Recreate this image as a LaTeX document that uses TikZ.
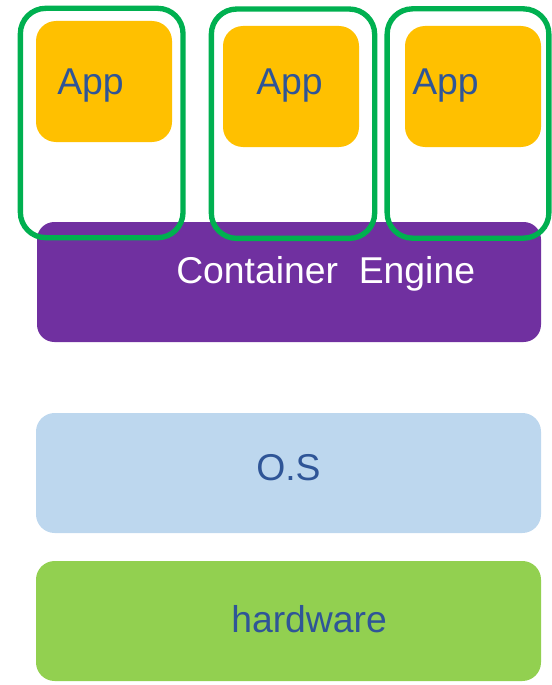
\documentclass[tikz,border=0pt]{standalone}
\usepackage{fontspec}
\setmainfont{Liberation Sans}
\definecolor{appyellow}{HTML}{FFC000}
\definecolor{enginepurple}{HTML}{7030A0}
\definecolor{boxgreen}{HTML}{00B050}
\definecolor{oslightblue}{HTML}{BDD7EE}
\definecolor{hwgreen}{HTML}{92D050}
\definecolor{labelblue}{HTML}{2F5597}
\begin{document}
\begin{tikzpicture}[x=0.75pt, y=-0.75pt]
  \tikzstyle{layer}=[rectangle, rounded corners=14pt, inner sep=0pt, minimum width=378.75pt, minimum height=90pt]
  \tikzstyle{appbox}=[rectangle, rounded corners=15pt, fill=appyellow, inner sep=0pt, minimum width=102pt, minimum height=90.75pt]
  \tikzstyle{container}=[rectangle, rounded corners=19pt, draw=boxgreen, line width=4pt, inner sep=0pt, minimum height=172pt]
  \tikzstyle{txt}=[anchor=base west, inner sep=0pt, font=\fontsize{28}{34}\selectfont, text=labelblue]
  \useasboundingbox (0,0) rectangle (552,685);
  \node[layer, fill=hwgreen] (hw) at (288.5,621) {};
  \node[layer, fill=oslightblue] (os) at (288.5,473) {};
  \node[layer, fill=enginepurple, rounded corners=13pt, minimum width=378pt] (engine) at (289,282) {};
  \node[appbox] (app1) at (104,81.5) {};
  \node[appbox] (app2) at (291,86.5) {};
  \node[appbox] (app3) at (473,86.5) {};
  \node[container, minimum width=122pt] (cont1) at (101.7,123) {};
  \node[container, minimum width=122.5pt] (cont2) at (293,123.7) {};
  \node[container, minimum width=121.3pt] (cont3) at (468,123.5) {};
  \node[txt] (app1txt) at (57,94) {App};
  \node[txt] (app2txt) at (256,94) {App};
  \node[txt] (app3txt) at (412,94) {App};
  \node[txt, text=white] (enginetxt) at (176,283) {Container~~Engine};
  \node[txt] (ostxt) at (256,480) {O.S};
  \node[txt] (hwtxt) at (231,632) {hardware};
\end{tikzpicture}
\end{document}
